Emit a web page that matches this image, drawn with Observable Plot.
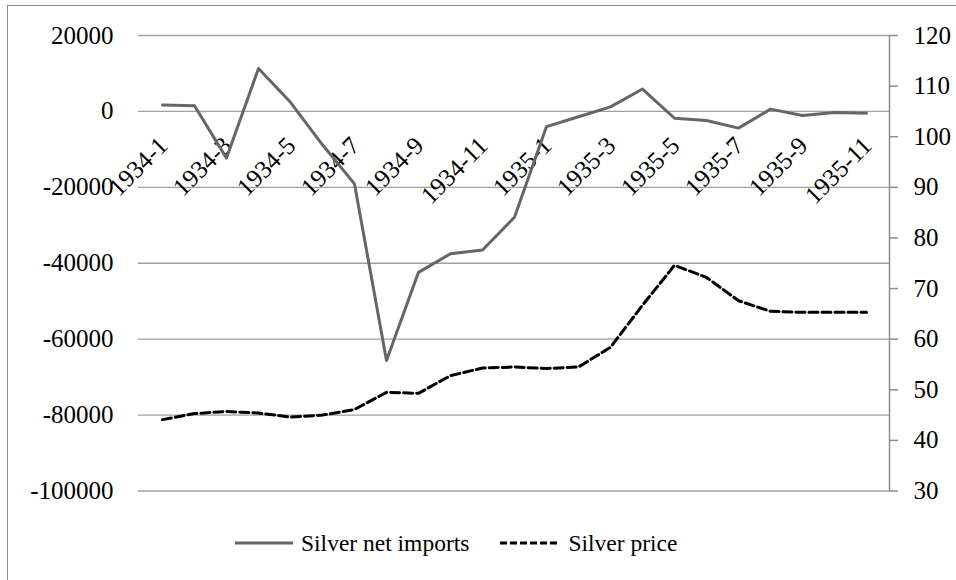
<!DOCTYPE html>
<html>
<head>
<meta charset="utf-8">
<script src="https://cdn.jsdelivr.net/npm/d3@7"></script>
<script src="https://cdn.jsdelivr.net/npm/@observablehq/plot@0.6"></script>
<style>
  body { margin: 0; background: #fff; font-family: "Liberation Serif", "Times New Roman", serif; }
  #wrap { position: relative; width: 956px; height: 580px; overflow: hidden; }
  #frame { position: absolute; left: 7px; top: 5px; width: 1200px; height: 1200px; border-left: 1.5px solid #8c8c8c; border-top: 1.5px solid #8c8c8c; pointer-events: none; }
  #chart { position: absolute; left: 0; top: 0; }
  #legend { position: absolute; left: 235px; top: 513px; height: 60px; display: flex; align-items: center; font-size: 23.5px; color: #000; }
  #legend .item { display: flex; align-items: center; }
  #legend svg { margin-right: 8px; }
</style>
</head>
<body>
<div id="wrap">
  <div id="chart"></div>
  <div id="legend">
    <div class="item"><svg width="58" height="6"><line x1="0" y1="3" x2="58" y2="3" stroke="#666" stroke-width="3"/></svg><span>Silver net imports</span></div>
    <div class="item" style="margin-left:31px"><svg width="60" height="6"><line x1="0" y1="3" x2="60" y2="3" stroke="#000" stroke-width="3" stroke-dasharray="7,3"/></svg><span>Silver price</span></div>
  </div>
  <div id="frame"></div>
</div>
<script>
const months = ["1934-1","1934-2","1934-3","1934-4","1934-5","1934-6","1934-7","1934-8","1934-9","1934-10","1934-11","1934-12",
                "1935-1","1935-2","1935-3","1935-4","1935-5","1935-6","1935-7","1935-8","1935-9","1935-10","1935-11"];
const netImports = [1700, 1500, -12300, 11300, 2400, -8800, -19100, -65600, -42400, -37500, -36500, -27900,
                    -4000, -1400, 1200, 5900, -1800, -2400, -4400, 600, -1100, -300, -500];
const silverPrice = [44.1, 45.3, 45.7, 45.4, 44.6, 45.0, 46.1, 49.5, 49.3, 52.8, 54.3, 54.5,
                     54.2, 54.5, 58.4, 66.7, 74.6, 72.2, 67.6, 65.5, 65.3, 65.3, 65.3];
const leftTicks = [-100000, -80000, -60000, -40000, -20000, 0, 20000];
const rightTicks = [30, 40, 50, 60, 70, 80, 90, 100, 110, 120];
const labelMonths = months.filter((d, i) => i % 2 === 0);

const leftDomain = [-100000, 20000];
const rightDomain = [30, 120];
const toLeft = p => leftDomain[0] + (p - rightDomain[0]) * (leftDomain[1] - leftDomain[0]) / (rightDomain[1] - rightDomain[0]);
const fromLeft = v => rightDomain[0] + (v - leftDomain[0]) * (rightDomain[1] - rightDomain[0]) / (leftDomain[1] - leftDomain[0]);

const imports = months.map((m, i) => ({month: m, value: netImports[i]}));
const price = months.map((m, i) => ({month: m, value: toLeft(silverPrice[i])}));

const chart = Plot.plot({
  width: 956,
  height: 515,
  marginLeft: 138,
  marginRight: 67,
  marginTop: 35,
  marginBottom: 24.5,
  style: {fontFamily: "'Liberation Serif', 'Times New Roman', serif", fontSize: "25px", color: "#000", background: "transparent", overflow: "visible"},
  x: {type: "point", domain: months, padding: 0.5, axis: null},
  y: {domain: leftDomain, axis: null},
  marks: [
    Plot.ruleY(leftTicks, {stroke: "#a0a0a0", strokeWidth: 1.3}),
    Plot.frame({anchor: "right", stroke: "#8c8c8c", strokeWidth: 1.5}),
    Plot.axisY(leftTicks, {anchor: "left", label: null, tickSize: 0, tickPadding: 25, tickFormat: d => String(d), fontSize: 25}),
    Plot.axisY(rightTicks.map(toLeft), {anchor: "right", label: null, tickSize: 8, tickPadding: 16, stroke: "#8c8c8c", strokeWidth: 1.5, tickFormat: v => String(Math.round(fromLeft(v))), fontSize: 25}),
    Plot.text(labelMonths, {x: d => d, y: d => 0, text: d => d, rotate: -45, textAnchor: "end", dx: 1, dy: 30, fontSize: 25, fill: "#000"}),
    Plot.line(price, {x: "month", y: "value", stroke: "#000", strokeWidth: 3, strokeDasharray: "9,4"}),
    Plot.line(imports, {x: "month", y: "value", stroke: "#666", strokeWidth: 3})
  ]
});
document.getElementById("chart").appendChild(chart);
</script>
</body>
</html>
